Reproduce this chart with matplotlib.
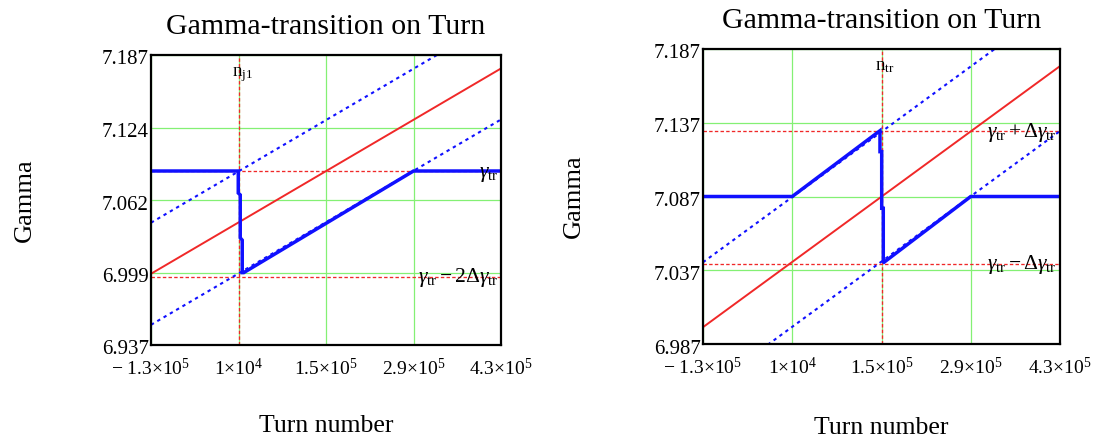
import matplotlib
matplotlib.use("Agg")
import matplotlib.pyplot as plt
from matplotlib.transforms import ScaledTranslation, blended_transform_factory

plt.rcParams['font.family'] = ['Liberation Serif', 'DejaVu Serif']
plt.rcParams['mathtext.fontset'] = 'custom'
plt.rcParams['mathtext.rm'] = 'Liberation Serif'
plt.rcParams['mathtext.it'] = 'Liberation Serif:italic'
plt.rcParams['mathtext.bf'] = 'Liberation Serif:bold'

# ---------------- data ----------------
turn_ends = [-1.3e5, 4.3e5]
gamma_beam = [6.998, 7.175]          # red line
gamma_upper = [7.042, 7.219]         # blue dotted (beam + delta)
gamma_lower = [6.954, 7.131]         # blue dotted (beam - delta)

x_ticks = [-1.3e5, 1e4, 1.5e5, 2.9e5, 4.3e5]
x_tick_labels = [r'$-\ 1.3{\times}10^{5}$', r'$1{\times}10^{4}$', r'$1.5{\times}10^{5}$',
                 r'$2.9{\times}10^{5}$', r'$4.3{\times}10^{5}$']

# left panel
left_y_ticks = [6.9366, 6.9991, 7.0616, 7.1241, 7.1866]
left_y_labels = ['6.937', '6.999', '7.062', '7.124', '7.187']
left_gtr_x = [-1.3e5, 9.6e3, 9.6e3, 1.28e4, 1.28e4, 1.6e4, 1.6e4, 1.84e4, 2.9e5, 4.3e5]
left_gtr_y = [7.0866, 7.0866, 7.0676, 7.0660, 7.0290, 7.0270, 6.9990, 6.9990, 7.0866, 7.0866]
left_levels = [7.0866, 6.995]
left_marker = 1e4

# right panel
right_y_ticks = [6.9866, 7.0366, 7.0866, 7.1366, 7.1866]
right_y_labels = ['6.987', '7.037', '7.087', '7.137', '7.187']
right_gtr_x = [-1.3e5, 1.0e4, 1.476e5, 1.476e5, 1.503e5, 1.503e5, 1.528e5, 1.528e5, 1.539e5, 2.9e5, 4.3e5]
right_gtr_y = [7.0866, 7.0866, 7.1312, 7.1170, 7.1170, 7.0786, 7.0786, 7.0424, 7.0420, 7.0866, 7.0866]
right_levels = [7.1312, 7.0406]
right_marker = 1.5e5

# ---------------- style ----------------
RED = '#f02828'
BLUE = '#1010ff'
GREEN = '#84f074'
red_dash = (0, (2.6, 1.7))
blue_dot = (0, (1.6, 1.9))

fig = plt.figure(figsize=(11.02, 4.41), dpi=100)
W, H = 1102, 441


def make_panel(rect, yticks, ylabels, gtr_x, gtr_y, levels, marker, marker_label,
               level_labels, xlabel_y):
    ax = fig.add_axes(rect)
    ax.set_xlim(x_ticks[0], x_ticks[-1])
    ax.set_ylim(yticks[0], yticks[-1])
    ax.set_xticks(x_ticks)
    ax.set_xticklabels(x_tick_labels)
    ax.set_yticks(yticks)
    ax.set_yticklabels(ylabels)
    ax.tick_params(axis='both', length=0)
    ax.tick_params(axis='x', pad=9, labelsize=14)
    ax.tick_params(axis='y', pad=1.5, labelsize=15)
    for lbl in ax.get_yticklabels():
        lbl.set_va('center')
        lbl.set_transform(lbl.get_transform() + ScaledTranslation(0, -5 / 100, fig.dpi_scale_trans))
    ax.grid(True, color=GREEN, lw=0.9)
    ax.set_axisbelow(True)
    for sp in ax.spines.values():
        sp.set_linewidth(1.6)
        sp.set_color('black')
        sp.set_zorder(10)

    ax.axvline(marker, color=RED, lw=0.95, ls=red_dash, zorder=2)
    for lv in levels:
        ax.axhline(lv, color=RED, lw=0.95, ls=red_dash, zorder=2)

    ax.plot(turn_ends, gamma_beam, color=RED, lw=1.4, zorder=3)
    ax.plot(turn_ends, gamma_upper, color=BLUE, lw=1.5, ls=blue_dot, zorder=3)
    ax.plot(turn_ends, gamma_lower, color=BLUE, lw=1.5, ls=blue_dot, zorder=3)
    ax.plot(gtr_x, gtr_y, color=BLUE, lw=2.5, zorder=4, solid_joinstyle='miter')

    ax.annotate(marker_label, xy=(marker, yticks[-1]), xytext=(-4.8, -15.2),
                textcoords='offset points', ha='left', va='baseline', fontsize=13.5, zorder=5)
    tr = blended_transform_factory(ax.transAxes, ax.transData)
    for lv, txt, dy in level_labels:
        ax.annotate(txt, xy=(0.992, lv), xycoords=tr, xytext=(0, dy),
                    textcoords='offset points', ha='right', va='center', fontsize=15.5, zorder=5)

    ax.set_title('Gamma-transition on Turn', fontsize=21.5, pad=15)
    ax.set_xlabel('Turn number', fontsize=18.5)
    ax.xaxis.set_label_coords(0.5, xlabel_y)
    ax.set_ylabel('Gamma', fontsize=19)
    ax.yaxis.set_label_coords(-0.33, 0.5)
    return ax


make_panel([151 / W, 1 - 345 / H, 350 / W, 290 / H],
           left_y_ticks, left_y_labels, left_gtr_x, left_gtr_y, left_levels,
           left_marker, r'$\mathrm{n}_{\mathrm{j1}}$',
           [(left_levels[0], r'$\gamma_{\mathrm{tr}}$', -2.5),
            (left_levels[1], r'$\gamma_{\mathrm{tr}}-2\Delta\gamma_{\mathrm{tr}}$', 0)],
           -0.241)

make_panel([703 / W, 1 - 344 / H, 357 / W, 295 / H],
           right_y_ticks, right_y_labels, right_gtr_x, right_gtr_y, right_levels,
           right_marker, r'$\mathrm{n}_{\mathrm{tr}}$',
           [(right_levels[0], r'$\gamma_{\mathrm{tr}}+\Delta\gamma_{\mathrm{tr}}$', -1),
            (right_levels[1], r'$\gamma_{\mathrm{tr}}-\Delta\gamma_{\mathrm{tr}}$', 0)],
           -0.247)

fig.savefig('out.png', dpi=100)
